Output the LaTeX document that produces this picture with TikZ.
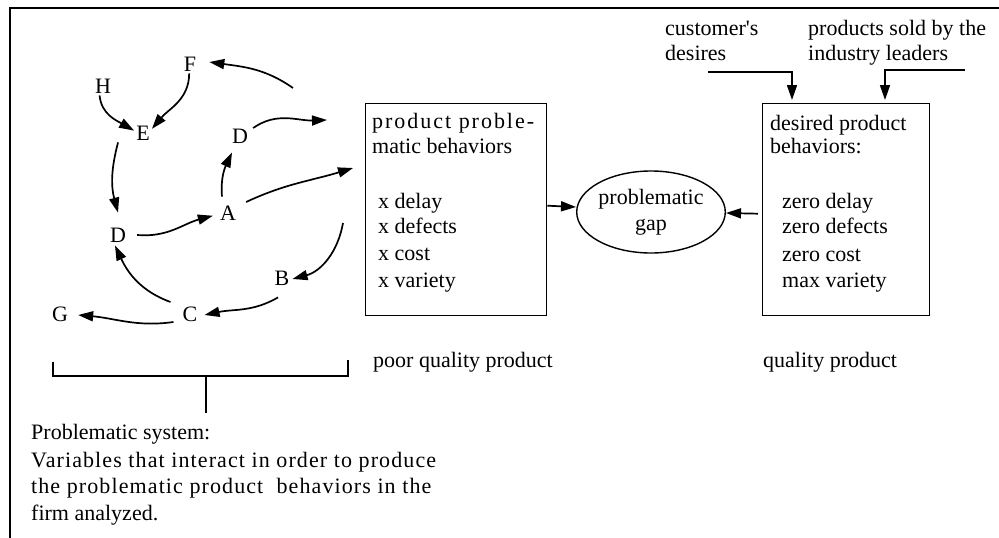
\documentclass[tikz,border=0pt]{standalone}
\usepackage{fontspec}
\setmainfont{Liberation Serif}
\usetikzlibrary{arrows.meta,shapes.geometric}
\begin{document}
\begin{tikzpicture}[x=1pt,y=1pt,
  txt/.style={font=\fontsize{22}{26.5}\selectfont, inner sep=0pt},
  lbl/.style={font=\fontsize{22}{26.5}\selectfont, inner sep=2pt},
  arr/.style={line width=1.7pt, -{Triangle[length=15pt,width=10pt]}},
  ln/.style={line width=1.5pt},
  box/.style={draw, line width=1.4pt, inner sep=0pt, minimum height=212pt}]
\useasboundingbox (0,0) rectangle (999,-538);
% frame
\draw[line width=2pt] (999,-8) -- (10,-8) -- (10,-538);
% letters
\node[lbl] (F)  at (190,-64)  {F};
\node[lbl] (H)  at (103,-86)  {H};
\node[lbl] (E)  at (143,-133) {E};
\node[lbl] (Du) at (240,-136) {D};
\node[lbl] (A)  at (228,-213) {A};
\node[lbl] (Dl) at (118,-235) {D};
\node[lbl] (B)  at (282,-278) {B};
\node[lbl] (C)  at (190,-314) {C};
\node[lbl] (G)  at (60,-314)  {G};
% free ends
\coordinate (toBox1) at (327,-120);
\coordinate (toBox2) at (353,-168);
\coordinate (fromTop) at (293,-88);
\coordinate (fromBox) at (343,-223);
% causal arrows
\draw[arr] (H.-110) to[out=-85,in=150] (E.165);
\draw[arr] (F.-95) to[out=-90,in=50] (E.25);
\draw[arr] ([xshift=-16pt]E.south west) to[out=-105,in=105] ([yshift=13pt]Dl.north);
\draw[arr] ([xshift=9pt]Dl.east) to[out=-5,in=195] ([xshift=-5pt]A.195);
\draw[arr] ([shift={(-6pt,7pt)}]A.north) to[out=95,in=-115] ([shift={(-8pt,-7pt)}]Du.south);
\draw[arr] ([shift={(3pt,8pt)}]Du.east) to[out=35,in=182] (toBox1);
\draw[arr] ([shift={(8pt,11pt)}]A.east) to[out=25,in=197] (toBox2);
\draw[arr] (fromTop) to[out=145,in=-8] ([shift={(11pt,2pt)}]F.east);
\draw[arr] (fromBox) to[out=-100,in=15] ([shift={(1pt,-1pt)}]B.east);
\draw[arr] ([shift={(-4pt,-10pt)}]B.south) to[out=-150,in=12] ([shift={(5pt,-1pt)}]C.east);
\draw[arr] ([shift={(-10pt,12pt)}]C.west) to[out=160,in=-65] ([shift={(-3pt,-1pt)}]Dl.south);
\draw[arr] ([shift={(-7pt,-8pt)}]C.west) to[out=188,in=-5] ([shift={(8pt,-1pt)}]G.east);
% boxes
\node[box, minimum width=181pt, anchor=north west] (box1) at (365,-103) {};
\node[box, minimum width=167pt, anchor=north west] (box2) at (762,-103) {};
\node[txt, anchor=base west] (b1a) at (372,-128) {\addfontfeature{LetterSpace=9}product proble-};
\node[txt, anchor=base west] (b1b) at (372,-153) {matic behaviors};
\node[txt, anchor=base west] (b1c) at (378,-208) {x delay};
\node[txt, anchor=base west] (b1d) at (378,-233) {x defects};
\node[txt, anchor=base west] (b1e) at (378,-260) {x cost};
\node[txt, anchor=base west] (b1f) at (378,-287) {x variety};
\node[txt, anchor=base west] (b2a) at (770,-130) {desired product};
\node[txt, anchor=base west] (b2b) at (770,-153) {behaviors:};
\node[txt, anchor=base west] (b2c) at (782,-208) {zero delay};
\node[txt, anchor=base west] (b2d) at (782,-233) {zero defects};
\node[txt, anchor=base west] (b2e) at (782,-261) {zero cost};
\node[txt, anchor=base west] (b2f) at (782,-287) {max variety};
\node[txt, anchor=base west] (poor) at (373,-367) {poor quality product};
\node[txt, anchor=base west] (qual) at (763,-367) {quality product};
% gap ellipse
\node[txt, draw, ellipse, line width=1.4pt, minimum width=134pt, minimum height=82pt, align=center] (gap) at (651,-212) {problematic\\gap};
\draw[arr] ([yshift=4pt]box1.east) -- ([yshift=5pt]gap.west);
\draw[arr] ([shift={(-4pt,-4pt)}]box2.west) -- ([yshift=-1pt]gap.east);
% inputs
\node[txt, anchor=base west] (cu1) at (665,-35) {customer\textquotesingle s};
\node[txt, anchor=base west] (cu2) at (665,-60) {desires};
\node[txt, anchor=base west] (pr1) at (808,-35) {products sold by the};
\node[txt, anchor=base west] (pr2) at (808,-60) {industry leaders};
\coordinate (c0) at (708,-72);
\coordinate (p0) at (965,-70);
\draw[arr] (c0) -| ([shift={(30pt,3pt)}]box2.north west);
\draw[arr] (p0) -| ([shift={(123pt,3pt)}]box2.north west);
% bracket
\draw[ln] (53,-362) |- (348,-376) -- (348,-360);
\coordinate (stem) at (206,-376);
\node[txt, anchor=base west] (s1) at (31,-439) {Problematic system:};
\node[txt, anchor=base west] (s2) at (31,-467) {\addfontfeature{LetterSpace=5}Variables that interact in order to produce};
\node[txt, anchor=base west] (s3) at (31,-493) {\addfontfeature{LetterSpace=5}the problematic product\ \ behaviors in the};
\node[txt, anchor=base west] (s4) at (31,-520) {firm analyzed.};
\draw[ln] (stem) -- ++(0,-37);
\end{tikzpicture}
\end{document}
